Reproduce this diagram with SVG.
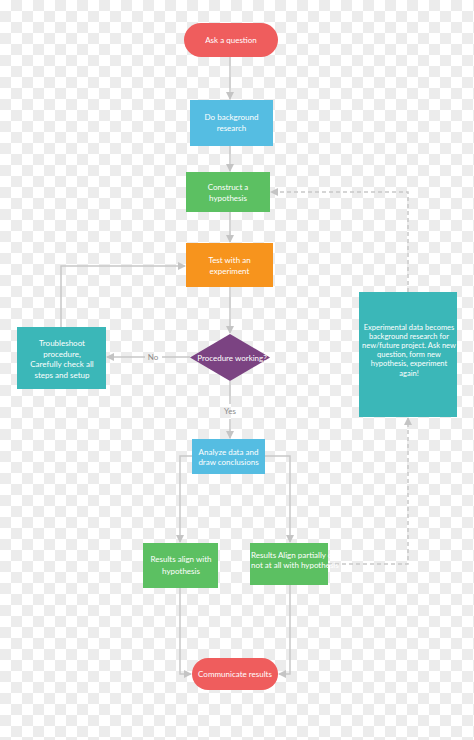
<svg xmlns="http://www.w3.org/2000/svg" width="474" height="740" viewBox="0 0 474 740">
<defs>
<pattern id="chk" width="22" height="22" patternUnits="userSpaceOnUse">
<rect width="22" height="22" fill="#ffffff"/>
<rect x="11" y="0" width="11" height="11" fill="#ececec"/>
<rect x="0" y="11" width="11" height="11" fill="#ececec"/>
</pattern>
<marker id="ar" markerWidth="8" markerHeight="8" refX="7" refY="4" orient="auto" markerUnits="userSpaceOnUse">
<path d="M0,0 L8,4 L0,8 Z" fill="#c4c4c4"/>
</marker>
<style>
.t{font-family:Lato,"Open Sans","Liberation Sans",sans-serif;font-size:8px;fill:#ffffff;text-anchor:middle;dominant-baseline:central}
.s{font-size:7.5px}
.st{text-anchor:start}
.l{font-family:Lato,"Open Sans","Liberation Sans",sans-serif;font-size:8px;fill:#8a8a8a;text-anchor:middle;dominant-baseline:central}
.c{fill:none;stroke:#c8c8c8;stroke-width:1.5}
.d{fill:none;stroke:#c8c8c8;stroke-width:1.5;stroke-dasharray:4 3}
.red{fill:#ef5d5d}
.blue{fill:#55bde2}
.green{fill:#5cc062}
.orange{fill:#f7941d}
.purple{fill:#7b4382}
.teal{fill:#3bb7b8}
</style>
</defs>
<rect width="474" height="740" fill="url(#chk)"/>
<g id="connectors">
<path class="c" d="M230,57 V99" marker-end="url(#ar)"/>
<path class="c" d="M230,146 V171" marker-end="url(#ar)"/>
<path class="c" d="M230,212 V242" marker-end="url(#ar)"/>
<path class="c" d="M230,287 V333" marker-end="url(#ar)"/>
<path class="c" d="M190,357 H162 M145,357 H107" marker-end="url(#ar)"/>
<path class="c" d="M61,327 V266 H185" marker-end="url(#ar)"/>
<path class="c" d="M230,381 V404 M230,419 V438" marker-end="url(#ar)"/>
<path class="c" d="M192,456 H180 V542" marker-end="url(#ar)"/>
<path class="c" d="M265,456 H290 V542" marker-end="url(#ar)"/>
<path class="c" d="M180,588 V674 H191" marker-end="url(#ar)"/>
<path class="c" d="M290,585 V674 H279" marker-end="url(#ar)"/>
<path class="d" d="M328,564 H408 V418" marker-end="url(#ar)"/>
<path class="d" d="M408,292 V192 H271" marker-end="url(#ar)"/>
<text class="l" x="153" y="357">No</text>
<text class="l" x="230" y="411">Yes</text>
</g>
<g id="ask">
<rect class="red" x="184" y="23" width="94" height="34" rx="17"/>
<text class="t" x="231" y="40">Ask a question</text>
</g>
<g id="background">
<rect class="blue" x="190" y="100" width="83" height="46"/>
<text class="t" x="231.5" y="117">Do background</text>
<text class="t" x="231.5" y="128">research</text>
</g>
<g id="hypothesis">
<rect class="green" x="186" y="172" width="84" height="40"/>
<text class="t" x="228" y="187">Construct a</text>
<text class="t" x="228" y="198">hypothesis</text>
</g>
<g id="test">
<rect class="orange" x="186" y="243" width="87" height="44"/>
<text class="t" x="229.5" y="260">Test with an</text>
<text class="t" x="229.5" y="271">experiment</text>
</g>
<g id="procedure">
<polygon class="purple" points="230,334 270,357.5 230,381 190,357.5"/>
<text class="t" x="232" y="358">Procedure working?</text>
</g>
<g id="troubleshoot">
<rect class="teal" x="17" y="327" width="89" height="62"/>
<text class="t" x="62" y="343">Troubleshoot</text>
<text class="t" x="62" y="353.5">procedure,</text>
<text class="t" x="62" y="364">Carefully check all</text>
<text class="t" x="62" y="374.5">steps and setup</text>
</g>
<g id="experimental">
<rect class="teal" x="359" y="292" width="98" height="125"/>
<text class="t s" x="409" y="327">Experimental data becomes</text>
<text class="t s" x="409" y="336">background research for</text>
<text class="t s" x="409" y="345">new/future project. Ask new</text>
<text class="t s" x="409" y="354">question, form new</text>
<text class="t s" x="409" y="363">hypothesis, experiment</text>
<text class="t s" x="409" y="373">again!</text>
</g>
<g id="analyze">
<rect class="blue" x="192" y="439" width="73" height="35"/>
<text class="t" x="228.5" y="452">Analyze data and</text>
<text class="t" x="228.5" y="462">draw conclusions</text>
</g>
<g id="align">
<rect class="green" x="143" y="543" width="75" height="45"/>
<text class="t" x="181" y="559">Results align with</text>
<text class="t" x="181" y="570.5">hypothesis</text>
</g>
<g id="partial">
<rect class="green" x="250" y="543" width="78" height="42"/>
<text class="t st" x="251" y="554.5">Results Align partially or</text>
<text class="t st" x="251" y="565">not at all with hypothesis</text>
</g>
<g id="communicate">
<rect class="red" x="192" y="658" width="86" height="32" rx="16"/>
<text class="t" x="235" y="674">Communicate results</text>
</g>
</svg>
